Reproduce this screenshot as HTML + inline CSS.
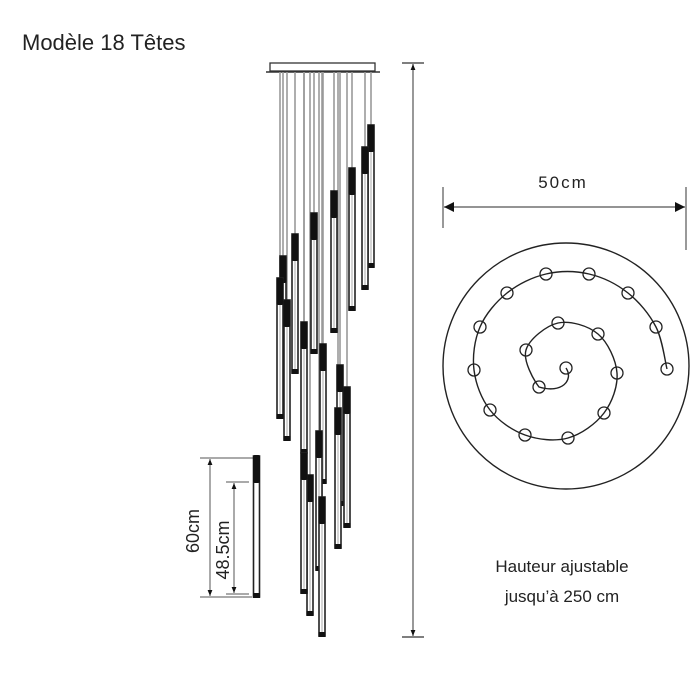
<!DOCTYPE html>
<html><head><meta charset="utf-8"><style>
body{margin:0;background:#fff;width:700px;height:700px;overflow:hidden}
svg{display:block}
text{font-family:"Liberation Sans",sans-serif;fill:#222}
</style></head><body>
<svg id="s" width="700" height="700" viewBox="0 0 700 700">
<defs>
<marker id="a" viewBox="0 0 10 10" refX="10" refY="5" markerWidth="10" markerHeight="6" orient="auto-start-reverse" markerUnits="userSpaceOnUse"><path d="M0,1 L10,5 L0,9z" fill="#111"/></marker>
<marker id="b" viewBox="0 0 10 10" refX="10" refY="5" markerWidth="26" markerHeight="10" orient="auto-start-reverse" markerUnits="userSpaceOnUse"><path d="M0,0 L10,5 L0,10z" fill="#111"/></marker>
</defs>
<text x="22" y="50" font-size="22">Modèle 18 Têtes</text>
<rect x="270" y="63" width="105" height="8" fill="#fff" stroke="#333" stroke-width="1.3"/>
<line x1="266" y1="72" x2="380" y2="72" stroke="#333" stroke-width="1.5"/>
<g id="pend"></g>
<line x1="402" y1="63" x2="424" y2="63" stroke="#333" stroke-width="1.2"/>
<line x1="402" y1="637" x2="424" y2="637" stroke="#333" stroke-width="1.2"/>
<line x1="413" y1="64" x2="413" y2="636" stroke="#555" stroke-width="1.2" marker-start="url(#a)" marker-end="url(#a)"/>
<line x1="443" y1="187" x2="443" y2="228" stroke="#555" stroke-width="1.2"/>
<line x1="686" y1="187" x2="686" y2="250" stroke="#555" stroke-width="1.2"/>
<line x1="444" y1="207" x2="685" y2="207" stroke="#555" stroke-width="1.2" marker-start="url(#b)" marker-end="url(#b)"/>
<text x="563" y="188" font-size="17" text-anchor="middle" letter-spacing="2">50cm</text>
<circle cx="566" cy="366" r="123" fill="none" stroke="#222" stroke-width="1.4"/>
<path id="sp" fill="none" stroke="#222" stroke-width="1.4"/>
<g id="dots"></g>
<line x1="200" y1="458" x2="253" y2="458" stroke="#555" stroke-width="1"/>
<line x1="200" y1="597" x2="252" y2="597" stroke="#555" stroke-width="1"/>
<line x1="210" y1="459" x2="210" y2="596" stroke="#555" stroke-width="1" marker-start="url(#a)" marker-end="url(#a)"/>
<line x1="226" y1="482" x2="249" y2="482" stroke="#555" stroke-width="1"/>
<line x1="226" y1="594" x2="249" y2="594" stroke="#555" stroke-width="1"/>
<line x1="234" y1="483" x2="234" y2="593" stroke="#555" stroke-width="1" marker-start="url(#a)" marker-end="url(#a)"/>
<rect x="253.5" y="456" width="6" height="141" fill="#fff" stroke="#222" stroke-width="1.6"/>
<rect x="253" y="455" width="7" height="28" fill="#111" rx="2"/>
<rect x="253" y="593" width="7" height="5" fill="#111"/>
<text transform="translate(199,531) rotate(-90)" font-size="18" text-anchor="middle">60cm</text>
<text transform="translate(229,550) rotate(-90)" font-size="18" text-anchor="middle">48.5cm</text>
<text x="562" y="572" font-size="17" text-anchor="middle">Hauteur ajustable</text>
<text x="562" y="602" font-size="17" text-anchor="middle">jusqu’à 250 cm</text>
</svg>
<script>
var NS="http://www.w3.org/2000/svg";
function el(p,t,a){var e=document.createElementNS(NS,t);for(var k in a)e.setAttribute(k,a[k]);p.appendChild(e);return e;}
var P=[[371,125,267],[365,147,289],[352,168,310],[334,191,332],[314,213,353],[295,234,373],[283,256,397],[280,278,418],[287,300,440],[304,322,453],[323,344,483],[340,365,505],[347,387,527],[338,408,548],[319,431,570],[310,475,615],[322,497,636],[304,453,593]];
var g=document.getElementById("pend");
P.forEach(function(p){el(g,"line",{x1:p[0],y1:72,x2:p[0],y2:p[1],stroke:"#999","stroke-width":1.6});});
P.forEach(function(p){var x=p[0]-3.5;
el(g,"rect",{x:x+0.5,y:p[1],width:6,height:p[2]-p[1],fill:"#fff",stroke:"#222","stroke-width":1.6});
el(g,"line",{x1:p[0],y1:p[1],x2:p[0],y2:p[2],stroke:"#aaa","stroke-width":1});
el(g,"rect",{x:x,y:p[1],width:7,height:27,fill:"#111",rx:2});
el(g,"rect",{x:x,y:p[2]-4,width:7,height:5,fill:"#111"});});
var D=[[539,387],[526,350],[558,323],[598,334],[617,373],[604,413],[568,438],[525,435],[490,410],[474,370],[480,327],[507,293],[546,274],[589,274],[628,293],[656,327],[667,369]];
var d="M566,368 C574,380 562,394 539,387";
for(var i=0;i<D.length-1;i++){var p0=D[Math.max(i-1,0)],p1=D[i],p2=D[i+1],p3=D[Math.min(i+2,D.length-1)];
if(i==0)p0=[560,395];
d+=" C"+(p1[0]+(p2[0]-p0[0])/6)+","+(p1[1]+(p2[1]-p0[1])/6)+" "+(p2[0]-(p3[0]-p1[0])/6)+","+(p2[1]-(p3[1]-p1[1])/6)+" "+p2[0]+","+p2[1];}
document.getElementById("sp").setAttribute("d",d);
var dg=document.getElementById("dots");
D.concat([[566,368]]).forEach(function(p){el(dg,"circle",{cx:p[0],cy:p[1],r:6,fill:"none",stroke:"#222","stroke-width":1.3});});
</script>
</body></html>
